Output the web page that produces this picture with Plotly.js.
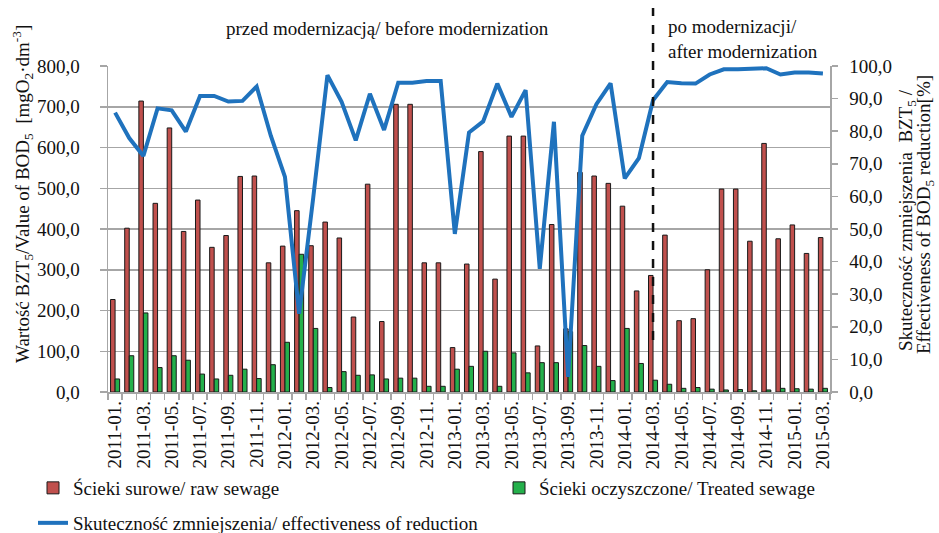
<!DOCTYPE html>
<html>
<head>
<meta charset="utf-8">
<script src="https://cdn.plot.ly/plotly-3.0.1.min.js"></script>
<style>html,body{margin:0;padding:0;background:#fff;}#chart{width:939px;height:533px;}</style>
</head>
<body>
<div id="chart"></div>
<script>
const categories = ['2011-01.','2011-02.','2011-03.','2011-04.','2011-05.','2011-06.','2011-07.','2011-08.','2011-09.','2011-10.','2011-11.','2011-12.',
  '2012-01.','2012-02.','2012-03.','2012-04.','2012-05.','2012-06.','2012-07.','2012-08.','2012-09.','2012-10.','2012-11.','2012-12.',
  '2013-01.','2013-02.','2013-03.','2013-04.','2013-05.','2013-06.','2013-07.','2013-08.','2013-09.','2013-10.','2013-11.','2013-12.',
  '2014-01.','2014-02.','2014-03.','2014-04.','2014-05.','2014-06.','2014-07.','2014-08.','2014-09.','2014-10.','2014-11.','2014-12.',
  '2015-01.','2015-02.','2015-03.'];
const rawSewage = [227,402,714,463,648,394,471,355,384,529,530,317,
  358,445,359,417,378,184,510,173,706,706,317,317,
  109,314,590,277,628,628,113,411,155,539,530,512,
  456,248,286,385,175,180,300,498,498,370,610,376,
  410,340,379];
const treatedSewage = [32,89,194,60,89,78,44,32,41,56,33,67,
  122,338,156,11,50,41,42,32,34,34,14,14,
  56,63,100,14,96,47,72,72,148,114,63,28,
  156,70,29,19,9,11,7,5,6,3,5,9,
  8,7,9];
const effectiveness = [85.7,77.9,72.4,87.0,86.4,79.9,90.8,90.8,89.1,89.3,93.7,78.6,
  66.0,24.0,59.7,97.2,89.0,77.2,91.5,80.4,94.9,94.9,95.4,95.4,
  48.5,79.6,83.0,94.6,84.4,92.6,37.8,82.9,4.6,78.6,88.3,94.7,
  65.5,71.7,89.5,95.1,94.7,94.6,97.4,99.0,99.0,99.0,99.3,97.4,
  98.0,98.0,97.7];
const modernizationMonth = '2014-03.';
const names = {
  raw: 'Ścieki surowe/ raw sewage',
  treated: 'Ścieki oczyszczone/ Treated sewage',
  eff: 'Skuteczność zmniejszenia/ effectiveness of reduction'
};

const FONT = 'Liberation Serif';
const GRID = '#a6a6a6';
const TXT = '#111';
const W = 939, H = 533;
const f = (s) => ({family:FONT, size:s, color:TXT});

const traces = [
  {type:'bar', x:categories, y:rawSewage, name:names.raw, legend:'legend',
   marker:{color:'#c0504d', line:{color:'#1a1a1a', width:1}}},
  {type:'bar', x:categories, y:treatedSewage, name:names.treated, legend:'legend2',
   marker:{color:'#24b04b', line:{color:'#1a1a1a', width:1}}},
  {type:'scatter', mode:'lines', x:categories, y:effectiveness, name:names.eff, yaxis:'y2', legend:'legend3',
   line:{color:'#1f72bd', width:4}}
];

const legendBase = {orientation:'h', xref:'container', yref:'container', xanchor:'left', yanchor:'middle',
  font:f(19), bgcolor:'rgba(0,0,0,0)', itemwidth:30};

const layout = {
  width:W, height:H,
  margin:{l:108, r:109, t:66, b:141},
  paper_bgcolor:'#fff', plot_bgcolor:'#fff',
  font:f(19),
  separators:', ',
  barmode:'group', bargap:0.36, bargroupgap:0,
  showlegend:true,
  legend: Object.assign({}, legendBase, {x:33/W, y:1-488/H}),
  legend2: Object.assign({}, legendBase, {x:499/W, y:1-488/H}),
  legend3: Object.assign({}, legendBase, {x:33/W, y:1-523/H}),
  xaxis:{type:'category', tickmode:'linear', tick0:0, dtick:1, ticklabelstep:2, tickangle:-90,
    tickson:'boundaries', ticks:'outside', ticklen:6, tickcolor:GRID, tickwidth:1.5,
    showline:true, linecolor:GRID, linewidth:1.5, showgrid:false, tickfont:f(19)},
  yaxis:{range:[0,800], dtick:100, tickformat:'.1f', showgrid:true, gridcolor:GRID, gridwidth:1.5,
    showline:true, linecolor:GRID, linewidth:1.5, ticks:'outside', ticklen:7, tickcolor:GRID, tickwidth:1.5,
    ticklabelstandoff:16, zeroline:false, tickfont:f(19)},
  yaxis2:{range:[0,100], dtick:10, tickformat:'.1f', overlaying:'y', side:'right', showgrid:false,
    showline:true, linecolor:GRID, linewidth:1.5, ticks:'outside', ticklen:6, tickcolor:GRID, tickwidth:1.5,
    ticklabelstandoff:8, zeroline:false, tickfont:f(19)},
  shapes:[
    {type:'line', xref:'x', yref:'paper', x0:modernizationMonth, x1:modernizationMonth, y0:(392-340)/326, y1:(392-8)/326,
     line:{color:'#111', width:2.5, dash:'dash'}}
  ],
  annotations:[
    {text:'przed modernizacją/ before modernization', xref:'paper', yref:'paper', x:(387-108)/722, y:(392-28)/326,
     xanchor:'center', yanchor:'middle', showarrow:false, font:f(19)},
    {text:'po modernizacji/<br>after modernization', xref:'paper', yref:'paper', x:(666-108)/722, y:(392-39)/326,
     xanchor:'left', yanchor:'middle', align:'left', showarrow:false, font:f(19)},
    {text:'Wartość BZT<sub>5</sub>/Value of BOD<sub>5</sub>  [mgO<sub>2</sub>·dm<sup>-3</sup>]', xref:'paper', yref:'paper',
     x:(22-108)/722, y:(392-194)/326, textangle:-90, xanchor:'center', yanchor:'middle', showarrow:false, font:f(19)},
    {text:'Skuteczność zmniejszenia  BZT<sub>5</sub> /', xref:'paper', yref:'paper',
     x:(907-108)/722, y:(392-220)/326, textangle:-90, xanchor:'center', yanchor:'middle', showarrow:false, font:f(19)},
    {text:'Effectiveness of BOD<sub>5</sub> reduction[%]', xref:'paper', yref:'paper',
     x:(925-108)/722, y:(392-215)/326, textangle:-90, xanchor:'center', yanchor:'middle', showarrow:false, font:f(19)}
  ]
};

Plotly.newPlot('chart', traces, layout, {displayModeBar:false, staticPlot:true});
</script>
</body>
</html>
